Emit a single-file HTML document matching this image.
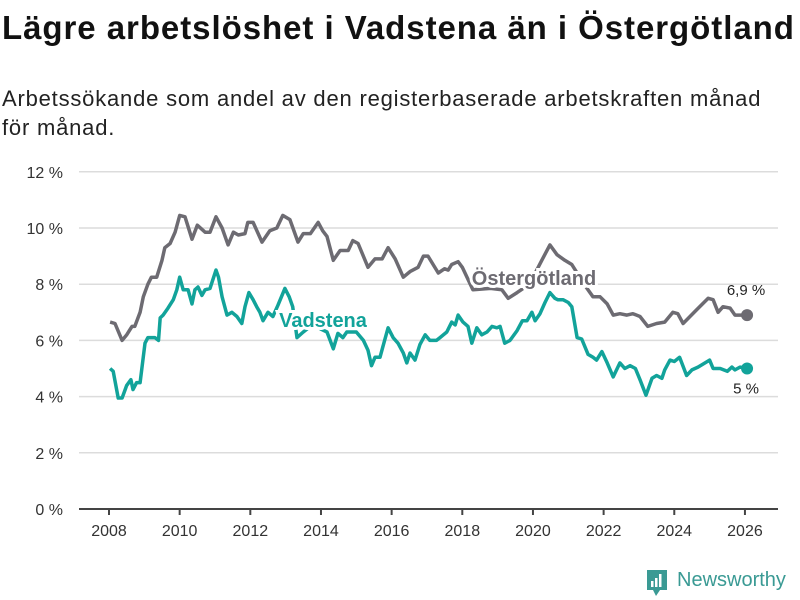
<!DOCTYPE html>
<html><head><meta charset="utf-8"><style>
body{margin:0;background:#fff;width:800px;height:600px;overflow:hidden;font-family:"Liberation Sans","DejaVu Sans",sans-serif;}
#title{position:absolute;left:2px;top:9px;font-size:33px;font-weight:bold;color:#111;margin:0;letter-spacing:0.95px;white-space:nowrap;}
#sub{position:absolute;left:2px;top:84px;font-size:22px;letter-spacing:0.8px;color:#222;line-height:29px;width:790px;}
svg{position:absolute;left:0;top:0;}
</style></head><body>
<h1 id="title">Lägre arbetslöshet i Vadstena än i Östergötland</h1>
<div id="sub">Arbetssökande som andel av den registerbaserade arbetskraften månad för månad.</div>
<svg id="chart" width="800" height="600"></svg>
<script>
const yTicks=[0,2,4,6,8,10,12];
const xTicks=[2008,2010,2012,2014,2016,2018,2020,2022,2024,2026];
const ostT=[2008.03,2008.17,2008.37,2008.5,2008.65,2008.73,2008.88,2008.97,2009.1,2009.2,2009.35,2009.5,2009.58,2009.73,2009.87,2010.0,2010.15,2010.35,2010.5,2010.72,2010.86,2011.03,2011.2,2011.37,2011.52,2011.66,2011.85,2011.93,2012.08,2012.33,2012.55,2012.75,2012.92,2013.12,2013.35,2013.5,2013.7,2013.92,2014.05,2014.17,2014.35,2014.54,2014.77,2014.9,2015.05,2015.33,2015.53,2015.73,2015.9,2016.1,2016.33,2016.52,2016.75,2016.9,2017.03,2017.32,2017.5,2017.6,2017.7,2017.88,2018.0,2018.3,2018.8,2019.12,2019.3,2019.55,2019.9,2020.25,2020.48,2020.68,2020.9,2021.1,2021.3,2021.53,2021.7,2021.9,2022.1,2022.27,2022.46,2022.66,2022.83,2023.03,2023.25,2023.5,2023.73,2023.96,2024.1,2024.25,2024.64,2024.96,2025.1,2025.24,2025.38,2025.58,2025.72,2025.86,2026.06];
const ostV=[6.65,6.6,6.0,6.2,6.5,6.5,7.0,7.55,8.0,8.25,8.25,8.85,9.3,9.45,9.85,10.45,10.4,9.6,10.1,9.85,9.85,10.4,10.0,9.4,9.85,9.75,9.8,10.2,10.2,9.5,9.9,10.0,10.45,10.3,9.5,9.8,9.8,10.2,9.9,9.7,8.85,9.2,9.2,9.55,9.45,8.6,8.9,8.9,9.3,8.9,8.25,8.45,8.6,9.0,9.0,8.4,8.55,8.5,8.7,8.8,8.6,7.8,7.85,7.8,7.5,7.7,8.0,8.85,9.4,9.05,8.85,8.7,8.3,7.85,7.55,7.55,7.3,6.9,6.95,6.9,6.95,6.85,6.5,6.6,6.65,7.0,6.95,6.6,7.1,7.5,7.45,7.0,7.2,7.15,6.9,6.9,6.9];
const vadT=[2008.03,2008.12,2008.26,2008.37,2008.5,2008.62,2008.68,2008.78,2008.88,2009.02,2009.1,2009.3,2009.4,2009.45,2009.53,2009.67,2009.82,2009.92,2010.0,2010.1,2010.24,2010.35,2010.43,2010.52,2010.63,2010.72,2010.86,2011.03,2011.1,2011.2,2011.34,2011.48,2011.62,2011.76,2011.85,2011.96,2012.08,2012.18,2012.27,2012.36,2012.5,2012.64,2012.78,2012.98,2013.1,2013.2,2013.32,2013.5,2013.8,2014.0,2014.17,2014.35,2014.48,2014.62,2014.73,2015.0,2015.2,2015.33,2015.43,2015.53,2015.67,2015.8,2015.9,2016.04,2016.18,2016.33,2016.43,2016.52,2016.66,2016.8,2016.95,2017.08,2017.27,2017.37,2017.56,2017.7,2017.8,2017.88,2018.02,2018.16,2018.27,2018.41,2018.55,2018.7,2018.84,2018.98,2019.07,2019.2,2019.35,2019.55,2019.7,2019.83,2019.97,2020.06,2020.2,2020.34,2020.48,2020.62,2020.7,2020.85,2021.0,2021.1,2021.25,2021.38,2021.56,2021.7,2021.8,2021.95,2022.1,2022.27,2022.46,2022.6,2022.75,2022.9,2023.03,2023.2,2023.37,2023.5,2023.65,2023.73,2023.88,2024.0,2024.15,2024.35,2024.5,2024.67,2025.0,2025.1,2025.3,2025.5,2025.63,2025.72,2025.86,2026.06];
const vadV=[5.0,4.9,3.95,3.95,4.4,4.6,4.25,4.5,4.5,5.9,6.1,6.1,6.0,6.8,6.9,7.15,7.45,7.8,8.25,7.8,7.8,7.3,7.8,7.9,7.6,7.8,7.85,8.5,8.25,7.55,6.9,7.0,6.85,6.6,7.2,7.7,7.45,7.2,7.0,6.7,7.0,6.85,7.25,7.85,7.55,7.2,6.1,6.3,6.6,6.4,6.3,5.7,6.25,6.1,6.3,6.3,6.0,5.65,5.1,5.4,5.4,6.0,6.45,6.1,5.9,5.55,5.2,5.55,5.3,5.85,6.2,6.0,6.0,6.1,6.3,6.65,6.55,6.9,6.65,6.5,5.9,6.45,6.2,6.3,6.5,6.45,6.5,5.9,6.0,6.35,6.7,6.7,7.0,6.7,6.95,7.35,7.7,7.5,7.45,7.45,7.35,7.2,6.1,6.05,5.5,5.4,5.3,5.6,5.2,4.7,5.2,5.0,5.1,5.0,4.6,4.05,4.65,4.75,4.65,4.95,5.3,5.25,5.4,4.75,4.95,5.05,5.3,5.0,5.0,4.9,5.05,4.95,5.05,5.0];
const lastLabels=["6,9 %","5 %"];

const NS="http://www.w3.org/2000/svg";
const svg=document.getElementById('chart');
const X=t=>109+(t-2008)*35.33;
const Y=v=>509-v*28.1;
function mk(tag,attrs,parent){const e=document.createElementNS(NS,tag);for(const k in attrs)e.setAttribute(k,attrs[k]);(parent||svg).appendChild(e);return e;}
yTicks.forEach(v=>{
  if(v>0){const g=mk('line',{x1:79,x2:778,y1:Y(v),y2:Y(v),stroke:'#dcdcdc','stroke-width':1.5});
  
  }
  const t=mk('text',{x:63,y:Y(v)+6,'text-anchor':'end','font-size':16,fill:'#333'});t.textContent=v+' %';
  
  
});
const ax=mk('line',{x1:79,x2:778,y1:509,y2:509,stroke:'#444','stroke-width':2});


xTicks.forEach(yr=>{
  const tk=mk('line',{x1:X(yr),x2:X(yr),y1:509,y2:515,stroke:'#444','stroke-width':2});
  
  
  const t=mk('text',{x:X(yr),y:536,'text-anchor':'middle','font-size':16,fill:'#333'});t.textContent=yr;
  
  
});
function pts(T,V){return T.map((t,i)=>X(t).toFixed(1)+','+Y(V[i]).toFixed(1)).join(' ');}
const l1=mk('polyline',{points:pts(ostT,ostV),fill:'none',stroke:'#6d6b72','stroke-width':3.5,'stroke-linejoin':'round'});


const l2=mk('polyline',{points:pts(vadT,vadV),fill:'none',stroke:'#12a39a','stroke-width':3.5,'stroke-linejoin':'round'});


const d1=mk('circle',{cx:X(ostT[ostT.length-1]),cy:Y(ostV[ostV.length-1]),r:6,fill:'#6d6b72'});


const d2=mk('circle',{cx:X(vadT[vadT.length-1]),cy:Y(vadV[vadV.length-1]),r:6,fill:'#12a39a'});


const a1=mk('text',{x:746,y:Y(ostV[ostV.length-1])-20,'text-anchor':'middle','font-size':15,fill:'#222'});a1.textContent=lastLabels[0];


const a2=mk('text',{x:746,y:Y(vadV[vadV.length-1])+25,'text-anchor':'middle','font-size':15,fill:'#222'});a2.textContent=lastLabels[1];


const s1=mk('text',{x:534,y:285,'text-anchor':'middle','font-size':20,'font-weight':'bold',fill:'#6d6b72',stroke:'#fff','stroke-width':6,'paint-order':'stroke'});s1.textContent='Östergötland';


const s2=mk('text',{x:323,y:327,'text-anchor':'middle','font-size':20,'font-weight':'bold',fill:'#12a39a',stroke:'#fff','stroke-width':6,'paint-order':'stroke'});s2.textContent='Vadstena';


</script>
<div style="position:absolute;left:645px;top:568px;display:flex;align-items:center;">
<svg width="24" height="30" style="position:static"><path d="M2 2h20v20h-7l-4 6-3-6H2z" fill="#3a9a94"/><rect x="6" y="13" width="2.5" height="6" fill="#fff"/><rect x="10" y="10" width="2.5" height="9" fill="#fff"/><rect x="14" y="6" width="2.5" height="13" fill="#fff"/></svg>
<span style="color:#3a9a94;font-size:20px;margin-left:8px;margin-top:-6px;">Newsworthy</span>
</div>
</body></html>
